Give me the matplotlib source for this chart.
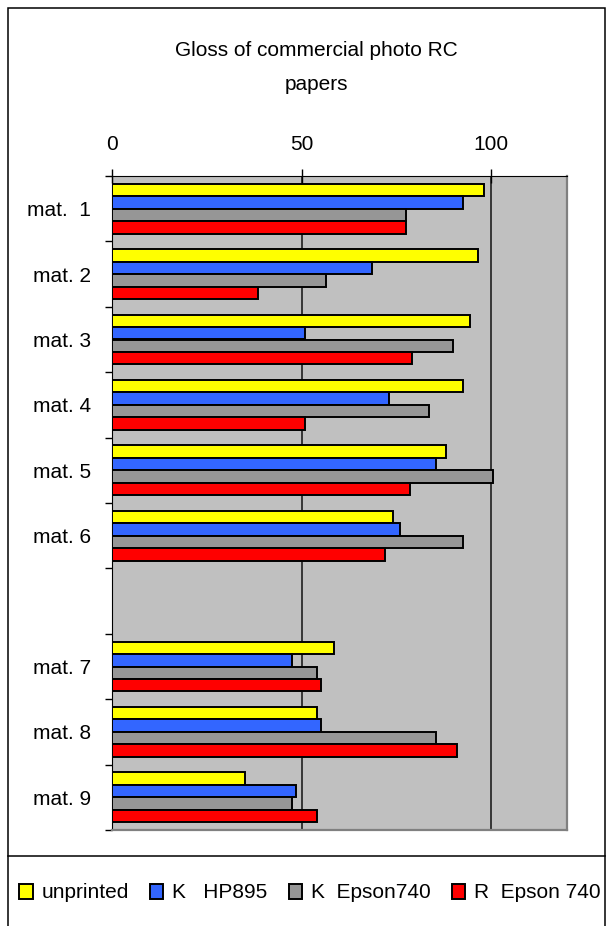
import numpy as np
import matplotlib
matplotlib.use("Agg")
import matplotlib.pyplot as plt
from matplotlib.patches import Rectangle
from matplotlib.lines import Line2D

plt.rcParams['font.family'] = ['Liberation Sans', 'DejaVu Sans']

title_lines = ["Gloss of commercial photo RC", "papers"]
categories = ["mat.  1", "mat. 2", "mat. 3", "mat. 4", "mat. 5", "mat. 6", "",
              "mat. 7", "mat. 8", "mat. 9"]
series_names = ["unprinted", "K   HP895", "K  Epson740", "R  Epson 740"]
unprinted = [98, 96.5, 94.5, 92.5, 88, 74, None, 58.5, 54, 35]
k_hp895 = [92.5, 68.5, 51, 73, 85.5, 76, None, 47.5, 55, 48.5]
k_epson740 = [77.5, 56.5, 90, 83.5, 100.5, 92.5, None, 54, 85.5, 47.5]
r_epson740 = [77.5, 38.5, 79, 51, 78.5, 72, None, 55, 91, 54]
xticks = [0, 50, 100]

colors = ["#FFFF00", "#3366FF", "#969696", "#FF0000"]
series = [unprinted, k_hp895, k_epson740, r_epson740]

W, H = 606, 926
fig = plt.figure(figsize=(W / 100, H / 100), dpi=100)
ax = fig.add_axes([112 / W, (H - 830) / H, 455 / W, 654 / H])
ax.set_facecolor("#C0C0C0")

pos = np.arange(len(categories))
bh = 0.19
for i, (vals, c, name) in enumerate(zip(series, colors, series_names)):
    v = np.array([np.nan if x is None else x for x in vals], dtype=float)
    ax.barh(pos + (i - 1.5) * bh, v, height=bh, color=c, edgecolor="black",
            linewidth=1.4, label=name, zorder=3)

ax.set_xlim(0, 120)
ax.set_ylim(len(categories) - 0.5, -0.5)
ax.xaxis.tick_top()
ax.set_xticks(xticks)
ax.set_xticklabels([str(t) for t in xticks], fontsize=15)
ax.tick_params(axis="x", direction="inout", length=10, width=1, pad=11, colors="black")
ax.xaxis.grid(True, color="#101010", linewidth=1.1, zorder=1)

ax.set_yticks(pos)
ax.set_yticklabels(categories, fontsize=15)
ax.set_yticks(np.arange(len(categories) + 1) - 0.5, minor=True)
ax.tick_params(axis="y", which="major", length=0, pad=15)
ax.tick_params(axis="y", which="minor", direction="out", length=5, width=1)
ax.set_axisbelow(True)

ax.spines["top"].set_color("black")
ax.spines["left"].set_color("black")
for s in ["right", "bottom"]:
    ax.spines[s].set_color("#808080")
    ax.spines[s].set_linewidth(1.6)

fig.text(316 / W, (H - 56) / H, title_lines[0], ha="center", va="baseline", fontsize=15)
fig.text(316 / W, (H - 90) / H, title_lines[1], ha="center", va="baseline", fontsize=15)

# outer frame and legend separator
fig.add_artist(Rectangle((8 / W, -0.01), (605 - 8) / W, (H - 8) / H + 0.01,
                         transform=fig.transFigure, fill=False,
                         edgecolor="black", linewidth=1.1))
fig.add_artist(Line2D([8 / W, 605 / W], [(H - 856) / H] * 2,
                      transform=fig.transFigure, color="black", linewidth=1.1))

handles, labels = ax.get_legend_handles_labels()
fig.legend(handles, labels, loc="center", bbox_to_anchor=(310 / W, (H - 893) / H),
           ncol=4, frameon=False, fontsize=15, handlelength=0.65, handleheight=0.7,
           handletextpad=0.43, columnspacing=1.0, borderaxespad=0)

fig.savefig("out.png", dpi=100)
